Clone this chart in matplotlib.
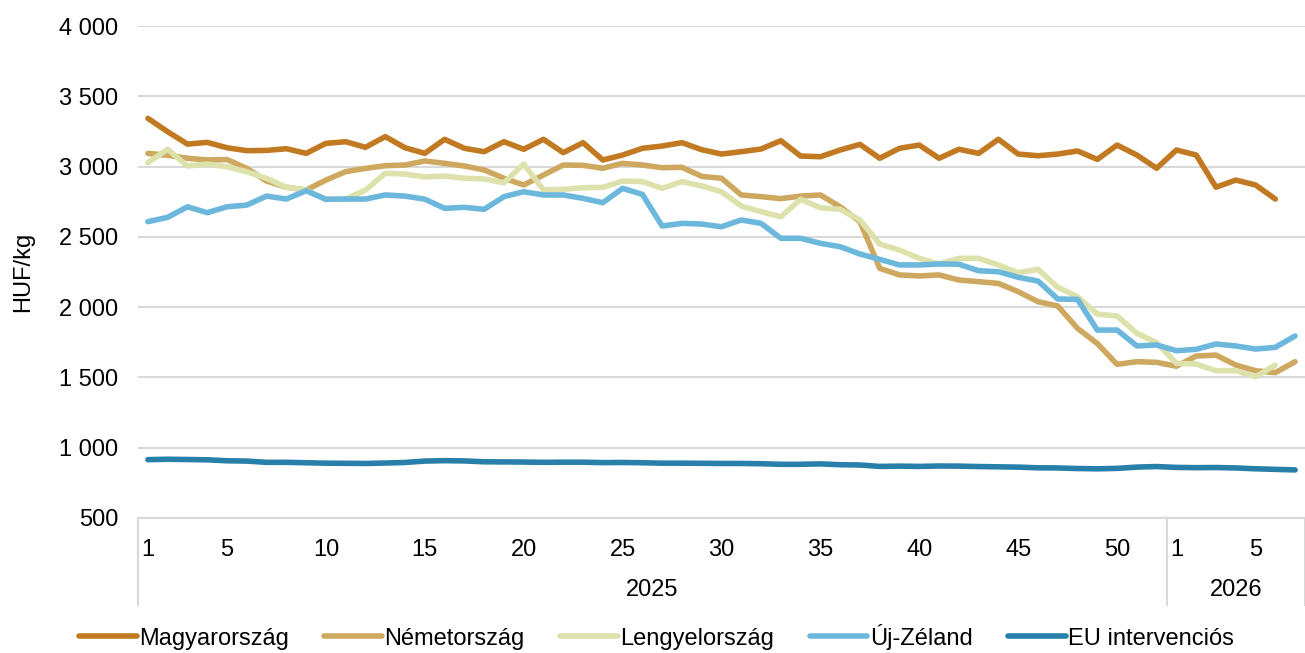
import numpy as np
import matplotlib
matplotlib.use("Agg")
import matplotlib.pyplot as plt

plt.rcParams['font.family'] = ['Liberation Sans', 'DejaVu Sans']

# hetek: 2025 1-52, 2026 1-7
weeks = list(range(1, 53)) + list(range(1, 8))
years = ['2025'] * 52 + ['2026'] * 7
shown_weeks = [1, 5, 10, 15, 20, 25, 30, 35, 40, 45, 50]

nan = np.nan
magyar = [3343, 3248, 3160, 3172, 3134, 3113, 3115, 3127, 3094, 3165,
          3177, 3137, 3213, 3134, 3094, 3194, 3130, 3106, 3177, 3123,
          3194, 3099, 3170, 3047, 3082, 3130, 3146, 3170, 3120, 3089,
          3106, 3125, 3184, 3075, 3070, 3118, 3158, 3059, 3130, 3153,
          3059, 3123, 3094, 3194, 3089, 3077, 3089, 3111, 3051, 3153,
          3082, 2988,
          3118, 3082, 2853, 2904, 2869, 2769, nan]
nemet = [3094, 3080, 3059, 3047, 3050, 2987, 2897, 2853, 2833, 2904,
         2964, 2987, 3006, 3011, 3040, 3023, 3004, 2976, 2917, 2869,
         2940, 3011, 3009, 2988, 3023, 3011, 2992, 2995, 2930, 2917,
         2798, 2786, 2772, 2790, 2798, 2714, 2608, 2276, 2229, 2222,
         2229, 2193, 2181, 2169, 2110, 2039, 2008, 1849, 1741, 1593,
         1612, 1607,
         1580, 1652, 1659, 1588, 1548, 1534, 1612]
lengyel = [3028, 3123, 3004, 3018, 2999, 2963, 2916, 2853, 2833, 2767,
           2769, 2833, 2952, 2947, 2926, 2933, 2917, 2912, 2885, 3018,
           2833, 2838, 2850, 2852, 2897, 2893, 2845, 2893, 2862, 2821,
           2719, 2679, 2643, 2767, 2707, 2696, 2620, 2449, 2406, 2347,
           2307, 2347, 2347, 2300, 2245, 2269, 2141, 2074, 1951, 1937,
           1814, 1747,
           1600, 1595, 1548, 1548, 1505, 1588, nan]
ujzeland = [2608, 2639, 2714, 2672, 2714, 2726, 2790, 2769, 2828, 2767,
            2769, 2769, 2798, 2790, 2768, 2703, 2710, 2696, 2786, 2821,
            2798, 2798, 2774, 2743, 2845, 2802, 2577, 2596, 2591, 2572,
            2620, 2596, 2490, 2490, 2454, 2430, 2378, 2340, 2300, 2300,
            2307, 2305, 2259, 2252, 2212, 2186, 2058, 2055, 1837, 1837,
            1724, 1731,
            1690, 1700, 1738, 1724, 1702, 1714, 1795]
eu = [915, 918, 916, 914, 907, 905, 896, 896, 893, 890,
      889, 888, 891, 895, 905, 908, 906, 900, 899, 898,
      896, 897, 897, 894, 895, 893, 890, 890, 889, 888,
      888, 886, 882, 882, 885, 879, 877, 867, 869, 867,
      870, 869, 866, 864, 862, 857, 856, 852, 850, 853,
      862, 866,
      860, 858, 859, 856, 850, 846, 842]

series = [
    ('Magyarország', magyar, '#C17A22'),
    ('Németország', nemet, '#CEA85F'),
    ('Lengyelország', lengyel, '#DDE1AB'),
    ('Új-Zéland', ujzeland, '#6CB8DD'),
    ('EU intervenciós', eu, '#287FAA'),
]

fs = 17
x = np.arange(len(weeks))

fig = plt.figure(figsize=(13.05, 6.53), dpi=100)
ax = fig.add_axes([138 / 1305, 135 / 653, 1167 / 1305, 492 / 653])

for name, vals, col in series:
    ax.plot(x, vals, color=col, lw=4.0, label=name, solid_capstyle='round', solid_joinstyle='round')

ax.set_xlim(-0.5, len(weeks) - 0.5)
ax.set_ylim(500, 4000)
yt = np.arange(500, 4001, 500)
ax.set_yticks(yt)
ax.set_yticklabels([f'{v:,}'.replace(',', ' ') for v in yt], fontsize=fs)
ax.grid(axis='y', color='#D9D9D9', lw=1.5)
ax.set_axisbelow(True)
for s in ['top', 'right', 'left']:
    ax.spines[s].set_visible(False)
ax.spines['bottom'].set_color('#D9D9D9')
ax.spines['bottom'].set_linewidth(1.5)
ax.tick_params(axis='y', length=0, pad=14)
ax.set_ylabel('HUF/kg', fontsize=fs, labelpad=18)

# elso szint: hetek
pos = [i for i in x if weeks[i] in shown_weeks and (years[i] == '2025' or weeks[i] in (1, 5))]
ax.set_xticks(pos)
ax.set_xticklabels([str(weeks[i]) for i in pos], fontsize=fs)
ax.tick_params(axis='x', length=0, pad=15)

# masodik szint: evek
tr = ax.get_xaxis_transform()
bottom = -87 / 492
bounds = [-0.5]
for i in range(1, len(years)):
    if years[i] != years[i - 1]:
        bounds.append(i - 0.5)
bounds.append(len(years) - 0.5)
for b in bounds:
    ax.plot([b, b], [0, bottom], color='#D9D9D9', lw=1.5, transform=tr, clip_on=False)
for a, b in zip(bounds[:-1], bounds[1:]):
    ax.text((a + b) / 2, -72 / 492, years[int(a + 0.5)], transform=tr,
            ha='center', va='center', fontsize=fs)

fig.legend(loc='center', bbox_to_anchor=(0.503, 0.025), ncol=5, frameon=False,
           fontsize=fs, handlelength=2.45, handletextpad=0.1, columnspacing=1.5)

fig.savefig('out.png', dpi=100)
